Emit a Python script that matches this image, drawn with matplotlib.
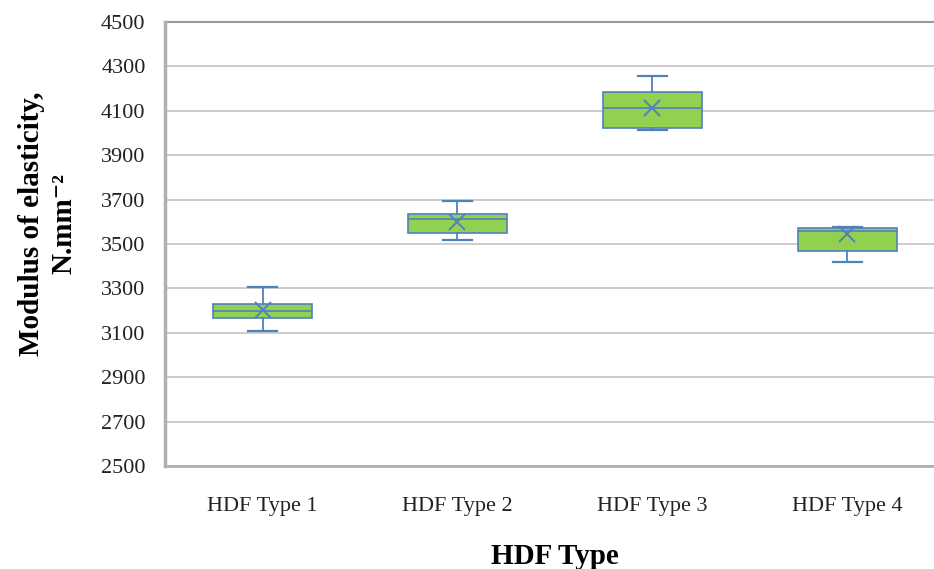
import matplotlib
matplotlib.use('Agg')
import matplotlib.pyplot as plt

# Data (N.mm^-2)
categories = ['HDF Type 1', 'HDF Type 2', 'HDF Type 3', 'HDF Type 4']
whislo = [3110, 3518, 4014, 3420]
q1 = [3168, 3551, 4021, 3470]
med = [3196, 3611, 4114, 3560]
q3 = [3228, 3634, 4186, 3571]
whishi = [3308, 3695, 4258, 3575]
means = [3202, 3600, 4114, 3544]
yticks = list(range(2500, 4501, 200))

# Colours
boxfill = '#92D050'
boxedge = '#4F81BD'
gridclr = '#C8C8C8'
spineclr = '#B0B0B0'

plt.rcParams['font.family'] = ['Liberation Serif', 'DejaVu Serif']

fig = plt.figure(figsize=(9.34, 5.69), dpi=100)
ax = fig.add_axes([165/934, 103/569, 780/934, 444/569])

stats = []
for i, name in enumerate(categories):
    stats.append(dict(label=name, whislo=whislo[i], q1=q1[i], med=med[i],
                      q3=q3[i], whishi=whishi[i], mean=means[i], fliers=[]))

ax.bxp(stats, positions=range(1, len(categories) + 1), widths=0.51,
       patch_artist=True, showmeans=True, showfliers=False,
       boxprops=dict(facecolor=boxfill, edgecolor=boxedge, linewidth=1.2),
       medianprops=dict(color=boxedge, linewidth=1.2),
       whiskerprops=dict(color=boxedge, linewidth=1.3),
       capprops=dict(color=boxedge, linewidth=1.6),
       capwidths=0.15,
       meanprops=dict(marker='x', markeredgecolor=boxedge, markersize=11,
                      markeredgewidth=1.4),
       zorder=3)

ax.set_xlim(0.5, len(categories) + 0.5)
ax.set_ylim(2500, 4500)
ax.set_yticks(yticks)
ax.set_xticks(range(1, len(categories) + 1))
ax.set_xticklabels(categories)
ax.tick_params(axis='both', length=0, labelsize=16, colors='#222222')
ax.tick_params(axis='y', pad=14)
ax.tick_params(axis='x', pad=22)
ax.yaxis.grid(True, color=gridclr, linewidth=1.3, zorder=0)
ax.set_axisbelow(True)

for side in ['top', 'right']:
    ax.spines[side].set_visible(False)
ax.spines['left'].set_color(spineclr)
ax.spines['left'].set_linewidth(2.5)
ax.spines['bottom'].set_color(spineclr)
ax.spines['bottom'].set_linewidth(2.0)
ax.axhline(4500, color='#999999', linewidth=1.5, clip_on=False)

ax.set_xlabel('HDF Type', fontsize=21, fontweight='bold', labelpad=20)
fig.text(48/934, 1 - 224/569, 'Modulus of elasticity,\nN.mm\u207b\u00b2',
         rotation=90, ha='center', va='center', multialignment='center',
         fontsize=21, fontweight='bold', linespacing=1.25)

plt.savefig('out.png', dpi=100)
